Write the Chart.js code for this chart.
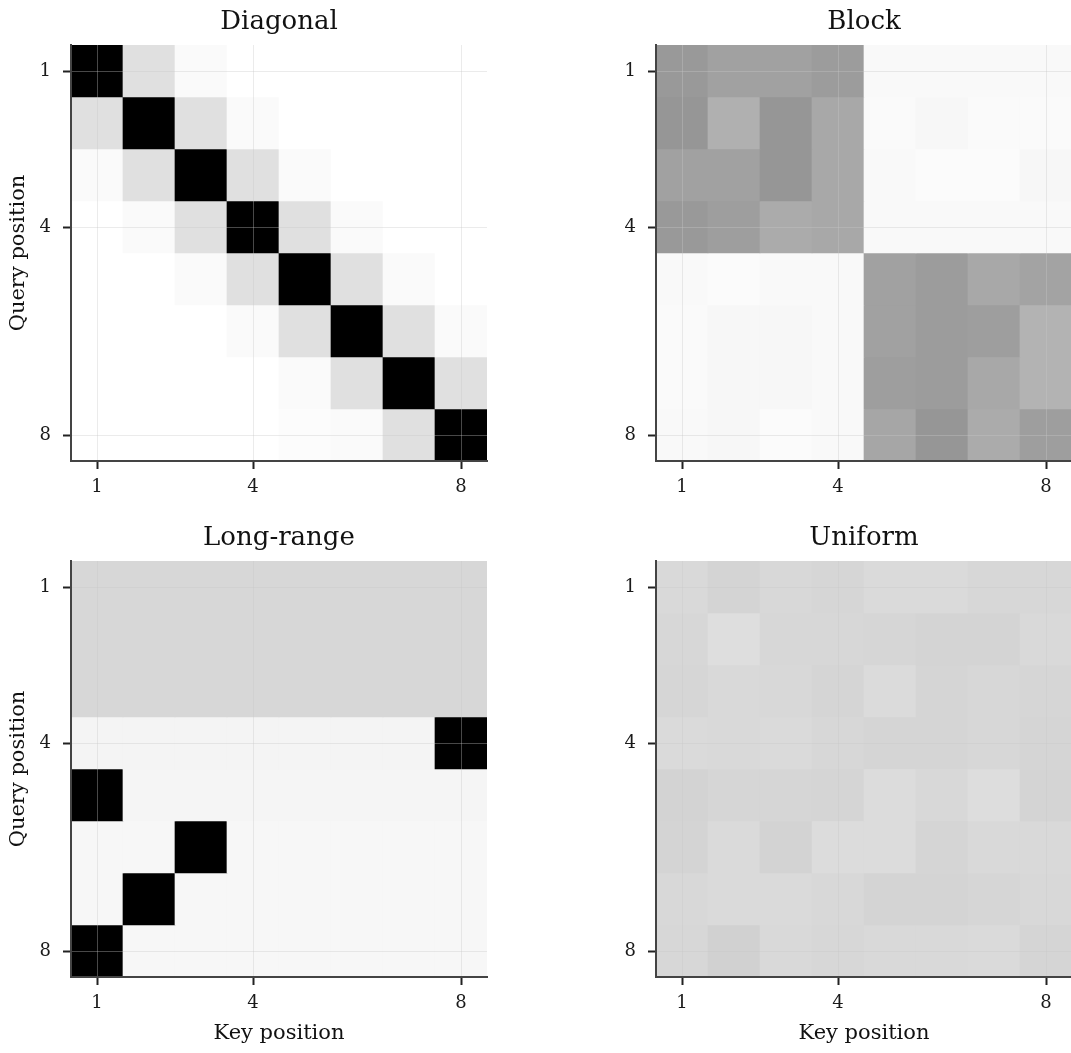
<!DOCTYPE html>
<html>
<head>
<meta charset="utf-8">
<script src="https://cdn.jsdelivr.net/npm/chart.js@4"></script>
<style>
    body { margin: 0; background: #fff; width: 1071px; height: 1053px; overflow: hidden; position: relative; }
    canvas { position: absolute; }
</style>
</head>
<body>
<canvas id="diagonal" width="500" height="516" style="left:0;top:0"></canvas>
<canvas id="block" width="500" height="516" style="left:585px;top:0"></canvas>
<canvas id="longRange" width="500" height="537" style="left:0;top:516px"></canvas>
<canvas id="uniform" width="500" height="537" style="left:585px;top:516px"></canvas>
<script>
// Positions (query = rows, key = columns)
const positions = [1, 2, 3, 4, 5, 6, 7, 8];
const tickPositions = [1, 4, 8];

// Attention weights (0 = white, 1 = black)
const diagonalWeights = [
    [1.00, 0.12, 0.02, 0.00, 0.00, 0.00, 0.00, 0.00],
    [0.12, 1.00, 0.12, 0.02, 0.00, 0.00, 0.00, 0.00],
    [0.02, 0.12, 1.00, 0.12, 0.02, 0.00, 0.00, 0.00],
    [0.00, 0.02, 0.12, 1.00, 0.12, 0.02, 0.00, 0.00],
    [0.00, 0.00, 0.02, 0.12, 1.00, 0.12, 0.02, 0.00],
    [0.00, 0.00, 0.00, 0.02, 0.12, 1.00, 0.12, 0.02],
    [0.00, 0.00, 0.00, 0.00, 0.02, 0.12, 1.00, 0.12],
    [0.00, 0.00, 0.00, 0.00, 0.01, 0.02, 0.12, 1.00]
];

const blockWeights = [
    [0.40, 0.37, 0.37, 0.39, 0.025, 0.025, 0.025, 0.025],
    [0.41, 0.31, 0.41, 0.34, 0.02, 0.03, 0.02, 0.02],
    [0.37, 0.37, 0.41, 0.34, 0.025, 0.015, 0.015, 0.03],
    [0.40, 0.38, 0.33, 0.34, 0.025, 0.025, 0.025, 0.025],
    [0.025, 0.015, 0.025, 0.025, 0.37, 0.39, 0.34, 0.36],
    [0.02, 0.03, 0.03, 0.025, 0.37, 0.39, 0.38, 0.30],
    [0.02, 0.03, 0.03, 0.025, 0.38, 0.39, 0.34, 0.30],
    [0.025, 0.03, 0.015, 0.025, 0.35, 0.41, 0.33, 0.38]
];

const longRangeWeights = [
    [0.157, 0.157, 0.157, 0.157, 0.157, 0.157, 0.157, 0.157],
    [0.157, 0.157, 0.157, 0.157, 0.157, 0.157, 0.157, 0.157],
    [0.157, 0.157, 0.157, 0.157, 0.157, 0.157, 0.157, 0.157],
    [0.043, 0.043, 0.043, 0.043, 0.043, 0.043, 0.043, 1.00],
    [1.00, 0.04, 0.04, 0.04, 0.04, 0.04, 0.04, 0.04],
    [0.03, 0.03, 1.00, 0.03, 0.03, 0.03, 0.03, 0.03],
    [0.03, 1.00, 0.03, 0.03, 0.03, 0.03, 0.03, 0.03],
    [1.00, 0.03, 0.03, 0.03, 0.03, 0.03, 0.03, 0.03]
];

const uniformWeights = [
    [0.149, 0.169, 0.153, 0.161, 0.145, 0.145, 0.157, 0.157],
    [0.157, 0.129, 0.157, 0.157, 0.161, 0.169, 0.169, 0.149],
    [0.161, 0.149, 0.153, 0.165, 0.141, 0.165, 0.157, 0.161],
    [0.145, 0.149, 0.145, 0.157, 0.165, 0.165, 0.157, 0.165],
    [0.173, 0.161, 0.161, 0.165, 0.137, 0.153, 0.133, 0.169],
    [0.169, 0.145, 0.173, 0.137, 0.137, 0.165, 0.149, 0.149],
    [0.153, 0.145, 0.145, 0.153, 0.169, 0.169, 0.161, 0.153],
    [0.157, 0.180, 0.149, 0.157, 0.149, 0.149, 0.145, 0.165]
];

const fontFamily = "'DejaVu Serif', serif";
const gridColor = 'rgba(200, 200, 200, 0.36)';

function shade(v) {
    const g = Math.round(255 * (1 - v));
    return `rgb(${g}, ${g}, ${g})`;
}

function onlyTicks(scale) {
    scale.ticks = tickPositions.map(v => ({ value: v }));
}

function makeHeatmap(canvasId, titleText, weights, showYTitle, showXTitle) {
    const canvas = document.getElementById(canvasId);
    const canvasHeight = canvas.height;

    // one floating-bar dataset per query row
    const datasets = weights.map((row, r) => ({
        data: row.map((v, c) => ({ x: positions[c], y: [positions[r] - 0.5, positions[r] + 0.5] })),
        backgroundColor: row.map(shade),
        borderWidth: 0,
        barPercentage: 1,
        categoryPercentage: 1,
        grouped: false
    }));

    // grid, border and ticks go on top of the cells (z > 0)
    const axisCommon = {
        type: 'linear',
        min: 0.5,
        max: 8.5,
        offset: false,
        afterBuildTicks: onlyTicks,
        grid: {
            z: 1,
            color: gridColor,
            lineWidth: 1,
            offset: false,
            drawTicks: true,
            tickColor: '#222',
            tickLength: 8,
            tickWidth: 2
        },
        border: { z: 2, display: true, color: '#444', width: 2 },
        ticks: {
            z: 1,
            color: '#1a1a1a',
            font: { family: fontFamily, size: 18 }
        }
    };

    new Chart(canvas, {
        type: 'bar',
        data: { datasets },
        options: {
            responsive: false,
            animation: false,
            layout: { padding: { right: 13 } },
            plugins: {
                legend: { display: false },
                tooltip: { enabled: false },
                title: {
                    display: true,
                    text: titleText,
                    fullSize: false,
                    color: '#111',
                    font: { family: fontFamily, size: 26, weight: 'normal', lineHeight: 1.0 },
                    padding: { top: 9, bottom: 10 }
                }
            },
            scales: {
                x: {
                    ...axisCommon,
                    position: 'bottom',
                    ticks: { ...axisCommon.ticks, padding: 8 },
                    title: {
                        display: showXTitle,
                        text: 'Key position',
                        color: '#111',
                        font: { family: fontFamily, size: 21 },
                        padding: { top: 0, bottom: 7 }
                    },
                    afterFit: s => { s.height = canvasHeight - 461; }
                },
                y: {
                    ...axisCommon,
                    position: 'left',
                    reverse: true,
                    ticks: { ...axisCommon.ticks, padding: 12 },
                    title: {
                        display: showYTitle,
                        text: 'Query position',
                        color: '#111',
                        font: { family: fontFamily, size: 21 },
                        padding: { top: 6, bottom: 0 }
                    },
                    afterFit: s => { s.width = 71; }
                }
            }
        }
    });
}

document.addEventListener('DOMContentLoaded', function() {
    makeHeatmap('diagonal', 'Diagonal', diagonalWeights, true, false);
    makeHeatmap('block', 'Block', blockWeights, false, false);
    makeHeatmap('longRange', 'Long-range', longRangeWeights, true, true);
    makeHeatmap('uniform', 'Uniform', uniformWeights, false, true);
});
</script>
</body>
</html>
